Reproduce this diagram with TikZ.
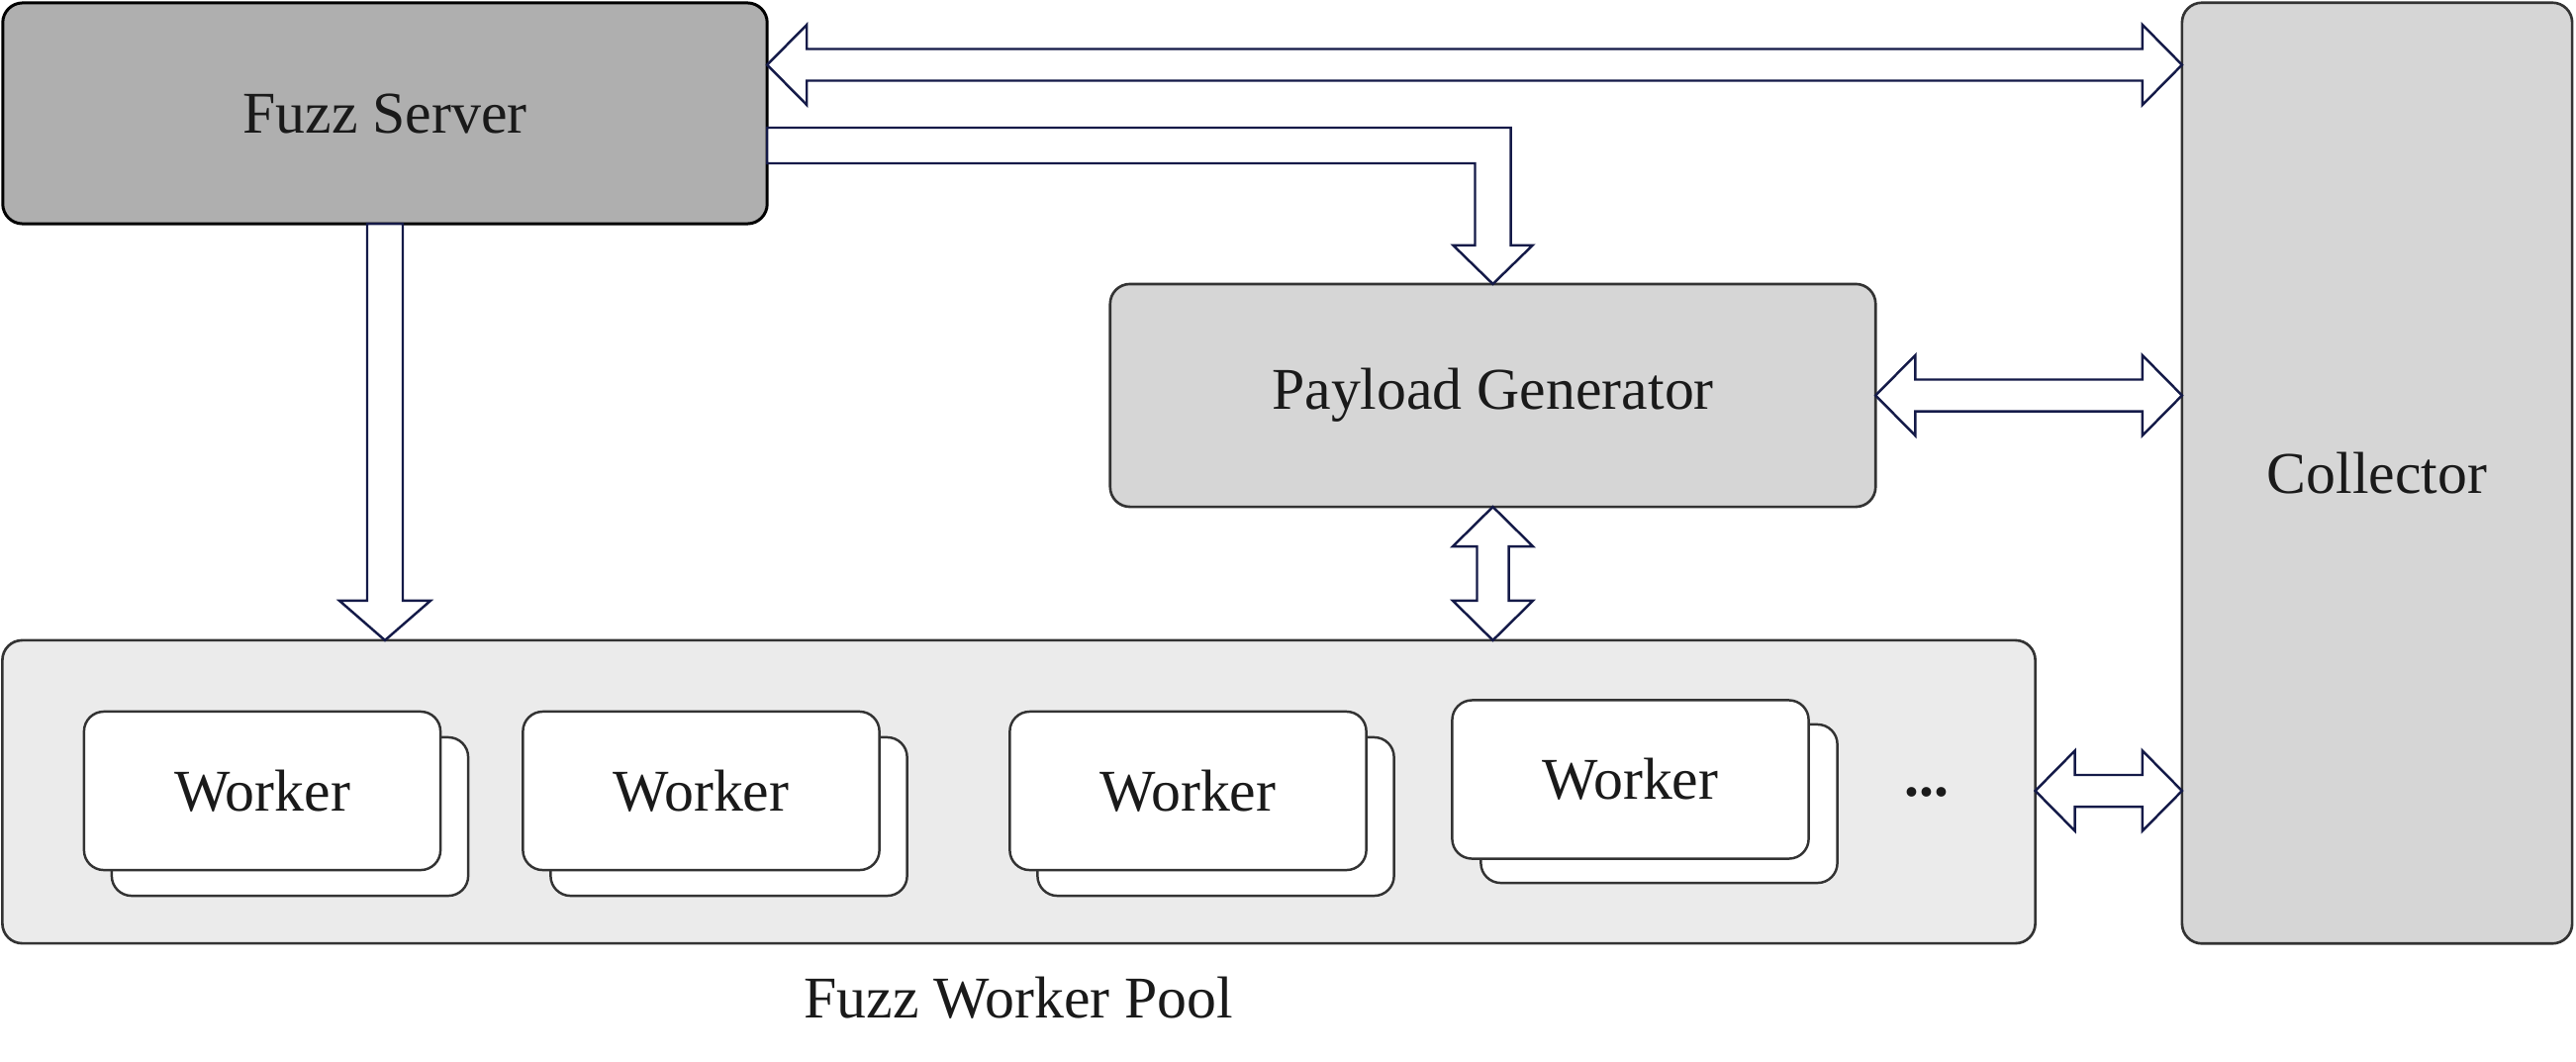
\documentclass[tikz,border=0pt]{standalone}
\usepackage{fontspec}
\setmainfont{Liberation Serif}
\usetikzlibrary{calc}
\definecolor{arrowc}{HTML}{141A48}
\definecolor{fsfill}{HTML}{AFAFAF}
\definecolor{midfill}{HTML}{D6D6D6}
\definecolor{poolfill}{HTML}{EBEBEB}
\definecolor{edgec}{HTML}{333333}
\definecolor{txtc}{HTML}{1A1A1A}
% double headed hollow arrow, horizontal: #1 left end, #2 right end, #3 shaft half, #4 head half, #5 head length
\newcommand\dblharrow[5]{%
\draw[hollow] (#1) -- ([shift={(#5,#4)}]#1) -- ([shift={(#5,#3)}]#1) -- ([shift={(-#5,#3)}]#2) -- ([shift={(-#5,#4)}]#2) -- (#2) -- ([shift={(-#5,-#4)}]#2) -- ([shift={(-#5,-#3)}]#2) -- ([shift={(#5,-#3)}]#1) -- ([shift={(#5,-#4)}]#1) -- cycle;}
% double headed hollow arrow, vertical: #1 top end, #2 bottom end
\newcommand\dblvarrow[5]{%
\draw[hollow] (#1) -- ([shift={(#4,-#5)}]#1) -- ([shift={(#3,-#5)}]#1) -- ([shift={(#3,#5)}]#2) -- ([shift={(#4,#5)}]#2) -- (#2) -- ([shift={(-#4,#5)}]#2) -- ([shift={(-#3,#5)}]#2) -- ([shift={(-#3,-#5)}]#1) -- ([shift={(-#4,-#5)}]#1) -- cycle;}
% single headed hollow arrow pointing down: #1 start (top), #2 tip (bottom)
\newcommand\sglvarrow[5]{%
\draw[hollow] ([xshift=-#3]#1) -- ([xshift=#3]#1) -- ([shift={(#3,#5)}]#2) -- ([shift={(#4,#5)}]#2) -- (#2) -- ([shift={(-#4,#5)}]#2) -- ([shift={(-#3,#5)}]#2) -- cycle;}
\begin{document}
\begin{tikzpicture}[x=0.01cm,y=-0.01cm,
  hollow/.style={draw=arrowc,fill=white,line width=0.7pt,line join=miter},
  box/.style={draw=edgec,line width=0.75pt,rounded corners=0.2cm,inner sep=0pt,outer sep=0pt,
    font=\fontsize{17}{20}\selectfont,text=txtc},
  fsbox/.style={box,draw=black,line width=0.85pt,fill=fsfill},
  midbox/.style={box,fill=midfill},
  poolbox/.style={box,fill=poolfill},
  wbox/.style={box,fill=white,line width=0.7pt,minimum width=3.6cm,minimum height=1.6cm},
  lbl/.style={font=\fontsize{17}{20}\selectfont,text=txtc,inner sep=0pt}]
\useasboundingbox (0,0) rectangle (2603,1072);
% main boxes
\node[fsbox,minimum width=7.72cm,minimum height=2.23cm] (fs) at (389,114.5) {Fuzz Server};
\node[midbox,minimum width=7.73cm,minimum height=2.25cm] (pg) at (1508.5,399.5) {Payload Generator};
\node[midbox,minimum width=3.94cm,minimum height=9.50cm] (col) at (2402,478) {Collector};
\node[poolbox,minimum width=20.53cm,minimum height=3.06cm] (pool) at (1029.5,800) {};
\node[lbl] (poollbl) at (1029.5,1008) {Fuzz Worker Pool};
% workers (back cards then front cards)
\node[wbox] (w1b) at (293,825) {};
\node[wbox] (w1) at (265,799) {Worker};
\node[wbox] (w2b) at (736.5,825) {};
\node[wbox] (w2) at (708.5,799) {Worker};
\node[wbox] (w3b) at (1228.5,825) {};
\node[wbox] (w3) at (1200.5,799) {Worker};
\node[wbox] (w4b) at (1676.5,812) {};
\node[wbox] (w4) at (1647.5,787.5) {Worker};
\node[lbl] (dots) at (1947,800) {\textbf{...}};
% connectors
\coordinate (a1l) at (fs.east |- 0,65.5);
\coordinate (a1r) at (col.west |- a1l);
\dblharrow{a1l}{a1r}{0.16cm}{0.405cm}{0.40cm}
% Fuzz Server -> Payload Generator (elbow)
\coordinate (e1) at (fs.east |- 0,147);
\coordinate (t1) at (pg.north);
\coordinate (c1) at (t1 |- e1);
\draw[hollow] ([yshift=0.18cm]e1) -- ([shift={(0.18cm,0.18cm)}]c1) -- ([shift={(0.18cm,0.39cm)}]t1)
  -- ([shift={(0.40cm,0.39cm)}]t1) -- (t1) -- ([shift={(-0.40cm,0.39cm)}]t1)
  -- ([shift={(-0.18cm,0.39cm)}]t1) -- ([shift={(-0.18cm,-0.18cm)}]c1) -- ([yshift=-0.18cm]e1) -- cycle;
% Fuzz Server -> pool
\coordinate (t2) at (pool.north -| fs.south);
\sglvarrow{fs.south}{t2}{0.18cm}{0.46cm}{0.40cm}
% Payload Generator <-> Collector
\coordinate (a4r) at (col.west |- pg.east);
\dblharrow{pg.east}{a4r}{0.16cm}{0.405cm}{0.40cm}
% Payload Generator <-> pool
\coordinate (a5b) at (pool.north -| pg.south);
\dblvarrow{pg.south}{a5b}{0.16cm}{0.405cm}{0.40cm}
% pool <-> Collector
\coordinate (a6l) at (pool.east |- 0,799);
\coordinate (a6r) at (col.west |- a6l);
\dblharrow{a6l}{a6r}{0.16cm}{0.405cm}{0.40cm}
\end{tikzpicture}
\end{document}
